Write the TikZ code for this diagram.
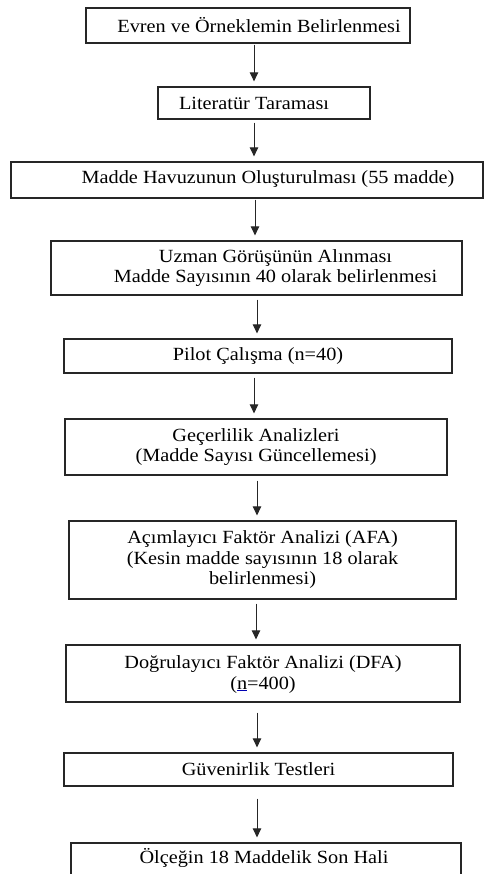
\documentclass[tikz,border=0pt]{standalone}
\usepackage{fontspec}
\setmainfont[FakeStretch=1.09]{Liberation Serif}
\usetikzlibrary{arrows.meta}
\begin{document}
\begin{tikzpicture}[x=1pt,y=-1pt,
  box/.style={draw=black!85,line width=1.3pt,rectangle,inner sep=0pt},
  txt/.style={align=center,inner sep=0pt,font=\fontsize{18.6}{20.5}\selectfont},
  arr/.style={draw=black!85,line width=1pt,-{Triangle[width=8.5pt,length=9pt]},shorten >=5pt,shorten <=1pt}]
\useasboundingbox[fill=white] (0,0) rectangle (486,874);
% boxes
\newcommand{\mkbox}[6]{\node[box,minimum width=#3-#2,minimum height=#5-#4] (#1) at ({(#2+#3)/2},{(#4+#5)/2}) {};}
\mkbox{b1}{86}{410}{8}{43}{}
\mkbox{b2}{158}{370}{87}{119}{}
\mkbox{b3}{11}{483}{162}{198}{}
\mkbox{b4}{51}{462}{241}{295}{}
\mkbox{b5}{64}{452}{339}{373}{}
\mkbox{b6}{65}{447}{419}{475}{}
\mkbox{b7}{69}{456}{521}{599}{}
\mkbox{b8}{66}{460}{645}{702}{}
\mkbox{b9}{64}{453}{753}{786}{}
\mkbox{b10}{71}{461}{843}{890}{}
% texts
\node[txt] (t1) at ([xshift=11pt]b1.center) {Evren ve Örneklemin Belirlenmesi};
\node[txt] (t2) at ([xshift=-10pt]b2.center) {Literatür Taraması};
\node[txt] (t3) at ([xshift=21pt,yshift=1pt]b3.center) {Madde Havuzunun Oluşturulması (55 madde)};
\node[txt] (t4) at ([xshift=19pt]b4.center) {Uzman Görüşünün Alınması\\Madde Sayısının 40 olarak belirlenmesi};
\node[txt] (t5) at (b5.center) {Pilot Çalışma (n=40)};
\node[txt] (t6) at (b6.center) {Geçerlilik Analizleri\\(Madde Sayısı Güncellemesi)};
\node[txt] (t7) at (b7.center) {Açımlayıcı Faktör Analizi (AFA)\\(Kesin madde sayısının 18 olarak\\belirlenmesi)};
\node[txt] (t8) at ([yshift=-1pt]b8.center) {Doğrulayıcı Faktör Analizi (DFA)\\(\textcolor{blue!70!black}{\underline{\textcolor{black}{n}}}=400)};
\node[txt] (t9) at (b9.center) {Güvenirlik Testleri};
\node[txt] (t10) at (264,858) {Ölçeğin 18 Maddelik Son Hali};
% arrows
\draw[arr] (b1.south -| 254,0) -- (b2.north -| 254,0);
\draw[arr] ([yshift=-2pt]b2.south -| 254,0) -- (b3.north -| 254,0);
\draw[arr] (b3.south -| 255,0) -- (b4.north -| 255,0);
\draw[arr] ([yshift=-3pt]b4.south -| 257,0) -- (b5.north -| 257,0);
\draw[arr] ([yshift=-3pt]b5.south -| 254,0) -- (b6.north -| 254,0);
\draw[arr] ([yshift=-4pt]b6.south -| 257,0) -- (b7.north -| 257,0);
\draw[arr] ([yshift=-3pt]b7.south -| 256,0) -- (b8.north -| 256,0);
\draw[arr] ([yshift=-9pt]b8.south -| 257,0) -- (b9.north -| 257,0);
\draw[arr] ([yshift=-11pt]b9.south -| 257,0) -- (b10.north -| 257,0);
\end{tikzpicture}
\end{document}
